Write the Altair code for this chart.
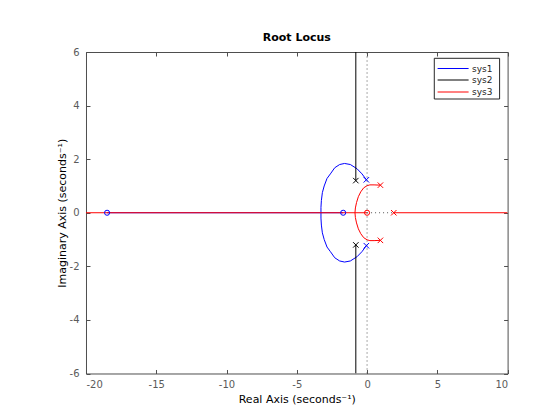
import altair as alt
import pandas as pd

# ---------------- data ----------------
series = ["sys1", "sys2", "sys3"]
colors = ["#0000ff", "#000000", "#ff0000"]

x_ticks = [-20, -15, -10, -5, 0, 5, 10]
y_ticks = [-6, -4, -2, 0, 2, 4, 6]

# sys1 (blue) locus branches
sys1_up_x = [-0.05, -0.36, -0.71, -1.19, -1.6, -1.95, -2.3, -2.61, -2.85, -3.05, -3.18, -3.25, -3.28, -3.28]
sys1_up_y = [1.23, 1.45, 1.64, 1.80, 1.84, 1.80, 1.68, 1.45, 1.28, 1.0, 0.75, 0.46, 0.2, 0.0]
sys1_lo_x = [-0.05, -0.36, -0.71, -1.19, -1.6, -1.95, -2.3, -2.61, -2.85, -3.05, -3.18, -3.25, -3.28, -3.28]
sys1_lo_y = [-1.23, -1.45, -1.64, -1.80, -1.84, -1.80, -1.68, -1.45, -1.28, -1.0, -0.75, -0.46, -0.2, 0.0]
sys1_real_x = [-18.5, -1.7]
sys1_real_y = [0.0, 0.0]

# sys2 (black) locus branches
sys2_up_x = [-0.8, -0.8]
sys2_up_y = [1.2, 6.0]
sys2_lo_x = [-0.8, -0.8]
sys2_lo_y = [-1.2, -6.0]

# sys3 (red) locus branches
sys3_up_x = [0.95, 0.5, 0.2, 0.0, -0.24, -0.45, -0.62, -0.75, -0.83, -0.86]
sys3_up_y = [1.03, 1.04, 1.04, 1.01, 0.93, 0.78, 0.6, 0.38, 0.18, 0.0]
sys3_lo_x = [0.95, 0.5, 0.2, 0.0, -0.24, -0.45, -0.62, -0.75, -0.83, -0.86]
sys3_lo_y = [-1.03, -1.04, -1.04, -1.01, -0.93, -0.78, -0.6, -0.38, -0.18, 0.0]
sys3_left_x = [-20.0, 0.0]
sys3_left_y = [0.0, 0.0]
sys3_right_x = [1.9, 10.0]
sys3_right_y = [0.0, 0.0]

# gray dotted guide lines
dot_v_x = [0.0, 0.0]
dot_v_y = [-6.0, 6.0]
dot_h_x = [0.0, 1.9]
dot_h_y = [0.0, 0.0]

# poles (x) and zeros (o)
pole_sys = ["sys1", "sys1", "sys2", "sys2", "sys3", "sys3", "sys3"]
pole_x = [-0.05, -0.05, -0.8, -0.8, 0.95, 0.95, 1.9]
pole_y = [1.23, -1.23, 1.2, -1.2, 1.03, -1.03, 0.0]
zero_sys = ["sys1", "sys1", "sys3"]
zero_x = [-1.7, -18.5, 0.0]
zero_y = [0.0, 0.0, 0.0]

# ---------------- tables ----------------
rows = []
segments = [
    ("sys1", "s1a", sys1_up_x, sys1_up_y),
    ("sys1", "s1b", sys1_lo_x, sys1_lo_y),
    ("sys1", "s1c", sys1_real_x, sys1_real_y),
    ("sys2", "s2a", sys2_up_x, sys2_up_y),
    ("sys2", "s2b", sys2_lo_x, sys2_lo_y),
    ("sys3", "s3a", sys3_up_x, sys3_up_y),
    ("sys3", "s3b", sys3_lo_x, sys3_lo_y),
    ("sys3", "s3c", sys3_left_x, sys3_left_y),
    ("sys3", "s3d", sys3_right_x, sys3_right_y),
]
for s, seg, xs_, ys_ in segments:
    for i, (a, b) in enumerate(zip(xs_, ys_)):
        rows.append({"sys": s, "seg": seg, "i": i, "x": a, "y": b})
lines_df = pd.DataFrame(rows)

drows = []
for seg, xs_, ys_ in [("v", dot_v_x, dot_v_y), ("h", dot_h_x, dot_h_y)]:
    for i, (a, b) in enumerate(zip(xs_, ys_)):
        drows.append({"seg": seg, "i": i, "x": a, "y": b})
dots_df = pd.DataFrame(drows)

poles_df = pd.DataFrame({"sys": pole_sys, "x": pole_x, "y": pole_y})
zeros_df = pd.DataFrame({"sys": zero_sys, "x": zero_x, "y": zero_y})

# ---------------- styling ----------------
W, H = 421.6, 321.5
FONT = "DejaVu Sans"
AXC = "#4d4d4d"
LABC = "#5a5a5a"
MINUS = "replace('' + datum.value, '\u2212', '-')"

xs = alt.Scale(domain=[-20, 10], nice=False, zero=False)
ys = alt.Scale(domain=[-6, 6], nice=False, zero=False)
cs = alt.Scale(domain=series, range=colors)

x_lab = alt.Axis(orient="bottom", values=x_ticks, ticks=False, domain=False, grid=False,
                 labelFont=FONT, labelFontSize=10, labelColor=LABC, labelPadding=6,
                 labelExpr=MINUS,
                 title="Real Axis (seconds⁻¹)", titleFont=FONT, titleFontSize=11,
                 titleFontWeight="normal", titleColor="#000000", titlePadding=4)
y_lab = alt.Axis(orient="left", values=y_ticks, ticks=False, domain=False, grid=False,
                 labelFont=FONT, labelFontSize=10, labelColor=LABC, labelPadding=7,
                 labelExpr=MINUS,
                 title="Imaginary Axis (seconds⁻¹)", titleFont=FONT, titleFontSize=11,
                 titleFontWeight="normal", titleColor="#000000", titlePadding=2)

def tick_axis(orient, offset, values):
    return alt.Axis(orient=orient, offset=offset, values=values, labels=False, domain=False,
                    grid=False, ticks=True, tickSize=4, tickColor=AXC, tickWidth=1, title=None)

x_tick_bottom = tick_axis("top", -H, x_ticks)
x_tick_top = tick_axis("bottom", -H, x_ticks)
y_tick_left = tick_axis("right", -W, y_ticks)
y_tick_right = tick_axis("left", -W, y_ticks)

lines = alt.Chart(lines_df).mark_line(strokeWidth=1, clip=True).encode(
    x=alt.X("x:Q", scale=xs, axis=x_lab),
    y=alt.Y("y:Q", scale=ys, axis=y_lab),
    color=alt.Color("sys:N", scale=cs, legend=None),
    detail="seg:N",
    order="i:Q",
)

dots = alt.Chart(dots_df).mark_line(strokeWidth=1, strokeDash=[1, 3], color="#555555", clip=True).encode(
    x=alt.X("x:Q", scale=xs, axis=None),
    y=alt.Y("y:Q", scale=ys, axis=None),
    detail="seg:N",
    order="i:Q",
)

poles = alt.Chart(poles_df).mark_point(shape="M-1,-1L1,1M-1,1L1,-1", size=30, filled=False,
                                       strokeWidth=1, opacity=1).encode(
    x=alt.X("x:Q", scale=xs, axis=x_tick_top),
    y=alt.Y("y:Q", scale=ys, axis=y_tick_right),
    color=alt.Color("sys:N", scale=cs, legend=None),
)

zeros = alt.Chart(zeros_df).mark_point(shape="circle", size=26, filled=False,
                                       strokeWidth=1, opacity=1).encode(
    x=alt.X("x:Q", scale=xs, axis=x_tick_bottom),
    y=alt.Y("y:Q", scale=ys, axis=y_tick_left),
    color=alt.Color("sys:N", scale=cs, legend=None),
)

# ---------------- legend box (drawn by hand, MATLAB style) ----------------
LEG_X0, LEG_X1, LEG_Y0, LEG_Y1 = 348.3, 413.6, 6.3, 47.0
LEG_ROW_Y = [16.5, 28.0, 40.0]
LEG_LINE_X0, LEG_LINE_X1, LEG_TEXT_X = 351.6, 382.6, 386.0

one = pd.DataFrame({"k": [0]})
legend_layers = [
    alt.Chart(one).mark_rect(fill="white", stroke="#262626", strokeWidth=1).encode(
        x=alt.value(LEG_X0), x2=alt.value(LEG_X1), y=alt.value(LEG_Y0), y2=alt.value(LEG_Y1)
    )
]
for name, col, yy in zip(series, colors, LEG_ROW_Y):
    legend_layers.append(
        alt.Chart(one).mark_rule(color=col, strokeWidth=1).encode(
            x=alt.value(LEG_LINE_X0), x2=alt.value(LEG_LINE_X1), y=alt.value(yy)
        )
    )
    legend_layers.append(
        alt.Chart(pd.DataFrame({"sys": [name]})).mark_text(
            align="left", baseline="middle", font=FONT, fontSize=9, color="#262626"
        ).encode(x=alt.value(LEG_TEXT_X), y=alt.value(yy), text="sys:N")
    )

chart = alt.layer(lines, dots, poles, zeros, *legend_layers).resolve_axis(
    x="independent", y="independent"
).properties(
    width=W, height=H,
    title=alt.TitleParams("Root Locus", font=FONT, fontSize=11, fontWeight="bold",
                          color="#000000", anchor="middle", offset=4),
    autosize=alt.AutoSizeParams(type="none"),
    padding={"left": 78, "top": 44, "right": 30, "bottom": 40},
).configure_view(stroke=AXC, strokeWidth=1)

chart.save("out.html", embed_options={"renderer": "svg", "actions": False})
